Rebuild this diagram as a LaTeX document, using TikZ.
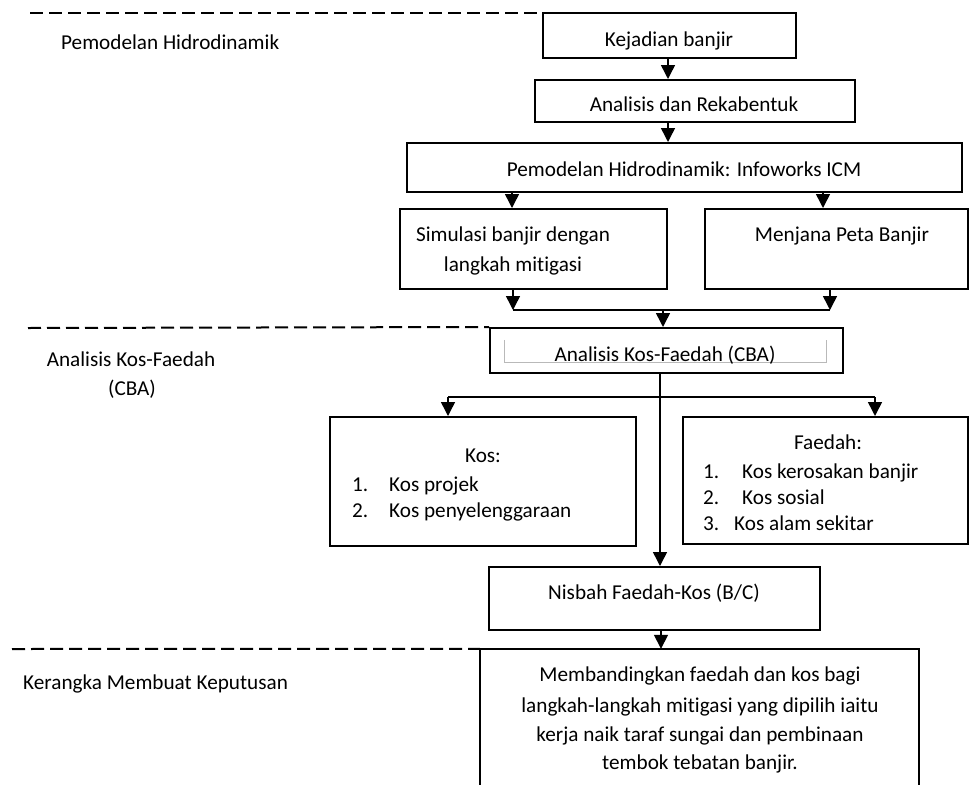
\documentclass[tikz,border=0pt]{standalone}
\usepackage{fontspec}
\setmainfont{Carlito}[Ligatures=NoCommon]
\usetikzlibrary{arrows.meta}
\begin{document}
\begin{tikzpicture}[x=1pt,y=-1pt,
  box/.style={draw,line width=2pt,inner sep=0pt},
  lbl/.style={anchor=base,inner sep=0pt,font=\fontsize{21.2}{25}\selectfont},
  lblw/.style={lbl,anchor=base west},
  arr/.style={line width=1.5pt,-{Triangle[length=14pt,width=14pt]}},
  conn/.style={line width=1.5pt},
  dashline/.style={line width=2pt,dash pattern=on 13pt off 6pt}]
\useasboundingbox (0,0) rectangle (970,785);
\clip (0,0) rectangle (970,785);

% boxes
\node[box,minimum width=253pt,minimum height=45pt] (kej) at (669.5,35.5) {};
\node[box,minimum width=320pt,minimum height=42pt] (ana) at (695,101) {};
\node[box,minimum width=555pt,minimum height=49pt] (pem) at (684.5,167.5) {};
\node[box,minimum width=267pt,minimum height=80pt] (sim) at (533.5,249) {};
\node[box,minimum width=263pt,minimum height=80pt] (men) at (836.5,249) {};
\node[box,minimum width=353pt,minimum height=45pt] (cba) at (666.5,350.5) {};
\node[inner sep=0pt,minimum width=321pt,minimum height=22pt] (cbain) at (665.5,351) {};
\draw[gray!55,line width=0.8pt] (cbain.north west) -- (cbain.south west) -- (cbain.south east) -- (cbain.north east);
\node[box,minimum width=306pt,minimum height=129pt] (kos) at (483,481.5) {};
\node[box,minimum width=285pt,minimum height=127pt] (fae) at (825.5,480.5) {};
\node[box,minimum width=331pt,minimum height=63pt] (nis) at (654.5,598.5) {};
\node[inner sep=0pt,minimum width=439pt,minimum height=151pt] (dec) at (699.5,724.5) {};
\draw[line width=2pt] (dec.south west) -- (dec.north west) -- (dec.north east) -- (dec.south east);

% dashed separators
\draw[dashline] (30,12.5) -- (541,12.5);
\draw[dashline] (28,328) -- (cba.north west);
\draw[dashline] (12,649) -- (dec.north west);

% texts
\node[lblw] (t1) at (61,49) {Pemodelan Hidrodinamik};
\node[lbl] (t2) at (131,366) {Analisis Kos-Faedah};
\node[lbl] (t3) at (132,395) {(CBA)};
\node[lblw] (t4) at (23,689) {Kerangka Membuat Keputusan};

\node[lbl] (tk) at (669,46) {Kejadian banjir};
\node[lbl] (ta) at (694,111) {Analisis dan Rekabentuk};
\node[lbl] (tp) at (684,176) {Pemodelan Hidrodinamik: Infoworks ICM};
\node[lbl] (ts1) at (513,241) {Simulasi banjir dengan};
\node[lbl] (ts2) at (513,271) {langkah mitigasi};
\node[lbl] (tm) at (842,241) {Menjana Peta Banjir};
\node[lbl] (tc) at (665,361) {Analisis Kos-Faedah (CBA)};

\node[lbl] (tkos) at (483,462) {Kos:};
\node[lblw] (tkn1) at (352,491) {1.};
\node[lblw] (tki1) at (389,491) {Kos projek};
\node[lblw] (tkn2) at (352,517) {2.};
\node[lblw] (tki2) at (389,517) {Kos penyelenggaraan};

\node[lbl] (tfae) at (828,449) {Faedah:};
\node[lblw] (tfn1) at (703,478) {1.};
\node[lblw] (tfi1) at (742,478) {Kos kerosakan banjir};
\node[lblw] (tfn2) at (703,504) {2.};
\node[lblw] (tfi2) at (742,504) {Kos sosial};
\node[lblw] (tfn3) at (703,530) {3.};
\node[lblw] (tfi3) at (734,530) {Kos alam sekitar};

\node[lbl] (tn) at (654,599) {Nisbah Faedah-Kos (B/C)};
\node[lbl] (td1) at (700,681) {Membandingkan faedah dan kos bagi};
\node[lbl] (td2) at (700,712) {langkah-langkah mitigasi yang dipilih iaitu};
\node[lbl] (td3) at (700,741) {kerja naik taraf sungai dan pembinaan};
\node[lbl] (td4) at (700,769) {tembok tebatan banjir.};

% connector coordinates
\coordinate (ax) at (668,0);
\coordinate (pl) at (512,0);
\coordinate (pr) at (823,0);
\coordinate (jl) at (513,310);
\coordinate (jr) at (830,310);
\coordinate (jm) at (663,310);
\coordinate (bm) at (660,397);
\coordinate (bl) at (448,397);
\coordinate (br) at (875,397);
\coordinate (nx) at (661,0);

% connectors
\draw[arr] (kej.south -| ax) -- (ana.north -| ax);
\draw[arr] (ana.south -| ax) -- (pem.north -| ax);
\draw[arr] (pem.south -| pl) -- (sim.north -| pl);
\draw[arr] (pem.south -| pr) -- (men.north -| pr);
\draw[arr] (sim.south -| jl) -- (jl);
\draw[arr] (men.south -| jr) -- (jr);
\draw[conn] (jl) -- (jr);
\draw[arr] (jm) -- (cba.north -| jm);
\draw[arr] (cba.south -| bm) -- (nis.north -| bm);
\draw[conn] (bl) -- (br);
\draw[arr] (bl) -- (kos.north -| bl);
\draw[arr] (br) -- (fae.north -| br);
\draw[arr] (nis.south -| nx) -- (dec.north -| nx);
\end{tikzpicture}
\end{document}
